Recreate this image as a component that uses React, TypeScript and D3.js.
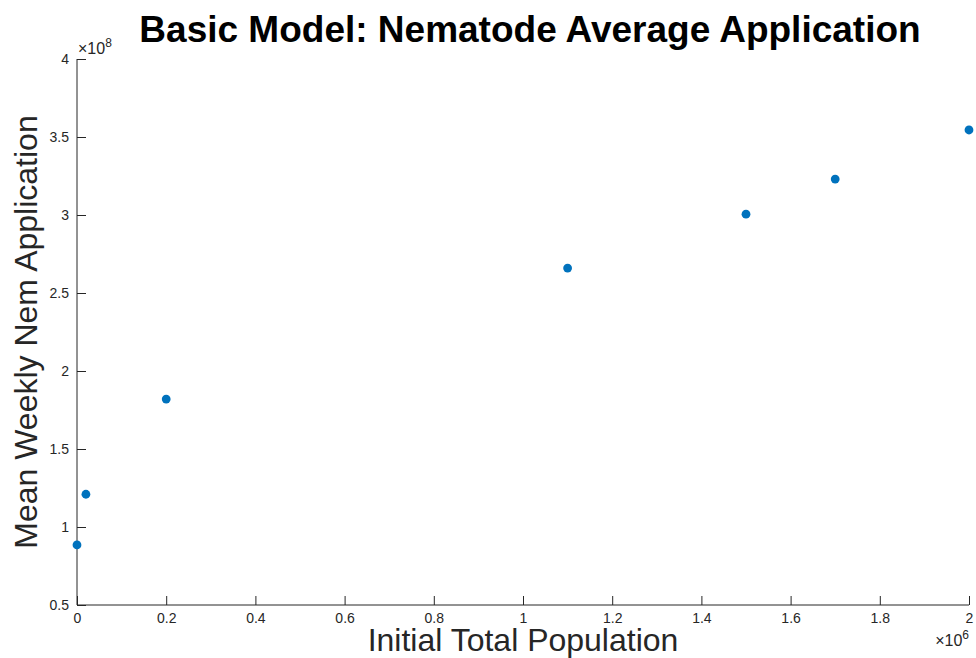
import { useEffect, useRef } from "react";
import * as d3 from "d3";

// initial population (x) vs mean weekly nematode application (y)
const populations = [0, 20000, 200000, 1100000, 1500000, 1700000, 2000000];
const applications = [8.85e7, 1.21e8, 1.82e8, 2.66e8, 3.005e8, 3.23e8, 3.545e8];

const xTicks = [0, 0.2, 0.4, 0.6, 0.8, 1, 1.2, 1.4, 1.6, 1.8, 2];
const yTicks = [0.5, 1, 1.5, 2, 2.5, 3, 3.5, 4];

const width = 976;
const height = 658;
const margin = { top: 59, right: 7, bottom: 53, left: 77 };
const axisColor = "#262626";
const font = "'Liberation Sans', Arial, Helvetica, sans-serif";

const App = () => {
  const svgRef = useRef<SVGSVGElement | null>(null);

  useEffect(() => {
    const svg = d3.select(svgRef.current);
    svg.selectAll("*").remove();

    const innerW = width - margin.left - margin.right;
    const innerH = height - margin.top - margin.bottom;

    const x = d3.scaleLinear().domain([0, 2e6]).range([0, innerW]);
    const y = d3.scaleLinear().domain([0.5e8, 4e8]).range([innerH, 0]);

    const g = svg
      .append("g")
      .attr("transform", `translate(${margin.left},${margin.top})`);

    // x axis
    const xAxis = g
      .append("g")
      .attr("transform", `translate(0,${innerH})`)
      .call(
        d3
          .axisBottom(x)
          .tickValues(xTicks.map((t) => t * 1e6))
          .tickSize(-9)
          .tickPadding(8)
          .tickFormat((d) => `${+(d as number) / 1e6}`)
      );
    xAxis.select(".domain").attr("stroke", axisColor).attr("d", `M0,0H${innerW}`);
    xAxis.selectAll(".tick line").attr("stroke", axisColor);
    xAxis
      .selectAll(".tick text")
      .attr("fill", axisColor)
      .style("font-family", font)
      .style("font-size", "14px");

    // y axis
    const yAxis = g.append("g").call(
      d3
        .axisLeft(y)
        .tickValues(yTicks.map((t) => t * 1e8))
        .tickSize(-9)
        .tickPadding(8)
        .tickFormat((d) => `${+(d as number) / 1e8}`)
    );
    yAxis.select(".domain").attr("stroke", axisColor).attr("d", `M0,${innerH}V0`);
    yAxis.selectAll(".tick line").attr("stroke", axisColor);
    yAxis
      .selectAll(".tick text")
      .attr("fill", axisColor)
      .style("font-family", font)
      .style("font-size", "14px");

    // exponent labels
    const yExp = g.append("text").attr("x", 1).attr("y", -5).attr("fill", axisColor)
      .style("font-family", font).style("font-size", "16px");
    yExp.append("tspan").text("\u00d710");
    yExp.append("tspan").attr("dy", -7).style("font-size", "12px").text("8");

    const xExp = g.append("text").attr("x", innerW).attr("y", innerH + 41)
      .attr("text-anchor", "end").attr("fill", axisColor)
      .style("font-family", font).style("font-size", "16px");
    xExp.append("tspan").text("\u00d710");
    xExp.append("tspan").attr("dy", -7).style("font-size", "12px").text("6");

    // points
    g.selectAll("circle.pt")
      .data(populations.map((p, i) => [p, applications[i]]))
      .join("circle")
      .attr("class", "pt")
      .attr("cx", (d) => x(d[0]))
      .attr("cy", (d) => y(d[1]))
      .attr("r", 4.4)
      .attr("fill", "#0072BD");

    // title
    svg
      .append("text")
      .attr("x", 530)
      .attr("y", 42)
      .attr("text-anchor", "middle")
      .attr("fill", "#000")
      .style("font-family", font)
      .style("font-weight", "bold")
      .style("font-size", "37px")
      .text("Basic Model: Nematode Average Application");

    // axis labels
    svg
      .append("text")
      .attr("x", margin.left + innerW / 2)
      .attr("y", 651)
      .attr("text-anchor", "middle")
      .attr("fill", axisColor)
      .style("font-family", font)
      .style("font-size", "32px")
      .text("Initial Total Population");

    svg
      .append("text")
      .attr("transform", `translate(37,${margin.top + innerH / 2}) rotate(-90)`)
      .attr("text-anchor", "middle")
      .attr("fill", axisColor)
      .style("font-family", font)
      .style("font-size", "32px")
      .text("Mean Weekly Nem Application");
  }, []);

  return (
    <svg
      ref={svgRef}
      width={width}
      height={height}
      style={{ position: "absolute", left: 0, top: 0, background: "#fff" }}
    />
  );
};

export default App;
